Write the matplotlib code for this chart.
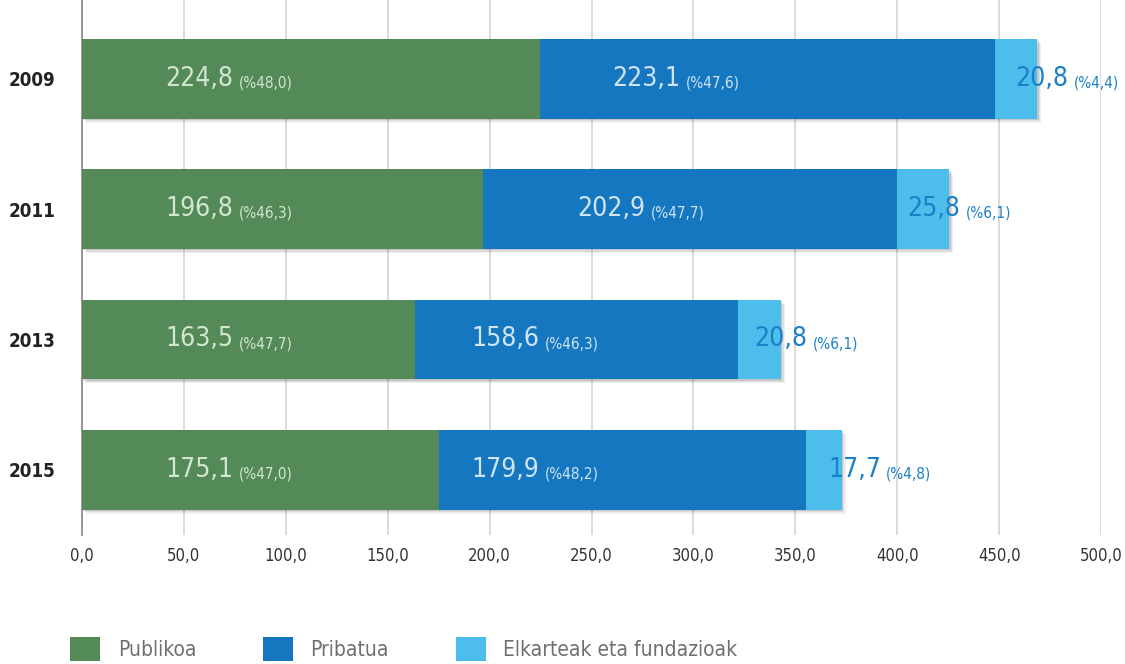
import matplotlib
matplotlib.use("Agg")
import matplotlib.pyplot as plt
import matplotlib.patheffects as pe
from matplotlib.patches import Patch
import numpy as np

# data
years = ["2009", "2011", "2013", "2015"]
publikoa = [224.8, 196.8, 163.5, 175.1]
pribatua = [223.1, 202.9, 158.6, 179.9]
elkarteak = [20.8, 25.8, 20.8, 17.7]
pct_publikoa = ["%48,0", "%46,3", "%47,7", "%47,0"]
pct_pribatua = ["%47,6", "%47,7", "%46,3", "%48,2"]
pct_elkarteak = ["%4,4", "%6,1", "%6,1", "%4,8"]
series_names = ["Publikoa", "Pribatua", "Elkarteak eta fundazioak"]
xticks = [0, 50, 100, 150, 200, 250, 300, 350, 400, 450, 500]

colors = ["#548a58", "#1477bf", "#4dbdeb"]
label_colors = ["#d3e6d2", "#d0e4f4", "#1a80c8"]

# where the labels start (data units)
lab_pub_x = [41, 41, 41, 41]
lab_pri_x = [260, 243, 191, 191]
lab_elk_x = [458, 405, 330, 366]

plt.rcParams["font.family"] = ["DejaVu Sans"]
plt.rcParams["font.stretch"] = "condensed"

fig = plt.figure(figsize=(11.25, 6.64), dpi=100)
ax = fig.add_axes([0.0729, 0.1943, 0.9058, 0.8057])

y = np.arange(len(years))
pub = np.array(publikoa)
pri = np.array(pribatua)
elk = np.array(elkarteak)

lefts = [np.zeros(len(years)), pub, pub + pri]
for vals, left, c in zip([pub, pri, elk], lefts, colors):
    ax.barh(y, vals, left=left, height=0.61, color=c, zorder=3)

# soft shadow under the whole stacked bar
for k, a in enumerate([0.06, 0.08, 0.10]):
    off = 3 - k
    ax.barh(y, pub + pri + elk, height=0.61, color="none", zorder=2,
            path_effects=[pe.SimplePatchShadow(offset=(off, -off), shadow_rgbFace="#000000", alpha=a)])

def fmt(v):
    return ("%.1f" % v).replace(".", ",")

def add_label(x, yy, val, pct, color):
    t = ax.text(x, yy, fmt(val), fontsize=19, color=color, va="center", ha="left", zorder=5)
    ax.annotate("(" + pct + ")", xy=(1, 0), xycoords=t, xytext=(4, 1),
                textcoords="offset points", fontsize=11, color=color,
                va="bottom", ha="left", zorder=5)

for i in range(len(years)):
    add_label(lab_pub_x[i], y[i], publikoa[i], pct_publikoa[i], label_colors[0])
    add_label(lab_pri_x[i], y[i], pribatua[i], pct_pribatua[i], label_colors[1])
    add_label(lab_elk_x[i], y[i], elkarteak[i], pct_elkarteak[i], label_colors[2])

ax.set_xlim(0, 500)
ax.set_ylim(3.5, -0.605)
ax.set_xticks(xticks)
ax.set_xticklabels([fmt(v) for v in xticks], fontsize=12, color="#333333")
ax.set_yticks(y)
ax.set_yticklabels(years, fontsize=13.5, fontweight="bold", color="#222222")
ax.tick_params(axis="x", length=0, pad=9)
ax.tick_params(axis="y", length=0, pad=19)
ax.grid(axis="x", color="#d8d3cf", linewidth=1.2, zorder=0)
for s in ["top", "right", "bottom"]:
    ax.spines[s].set_visible(False)
ax.spines["left"].set_color("#888888")
ax.spines["left"].set_linewidth(1.2)

handles = [Patch(facecolor=c, edgecolor="none") for c in colors]
leg = fig.legend(handles, series_names, loc="center left", bbox_to_anchor=(0.0622, 0.022),
                 ncol=3, frameon=False, fontsize=15, handlelength=1.44, handleheight=1.4,
                 handletextpad=0.85, columnspacing=3.2, borderpad=0, borderaxespad=0)
for t in leg.get_texts():
    t.set_color("#707070")

fig.savefig("out.png", dpi=100)
